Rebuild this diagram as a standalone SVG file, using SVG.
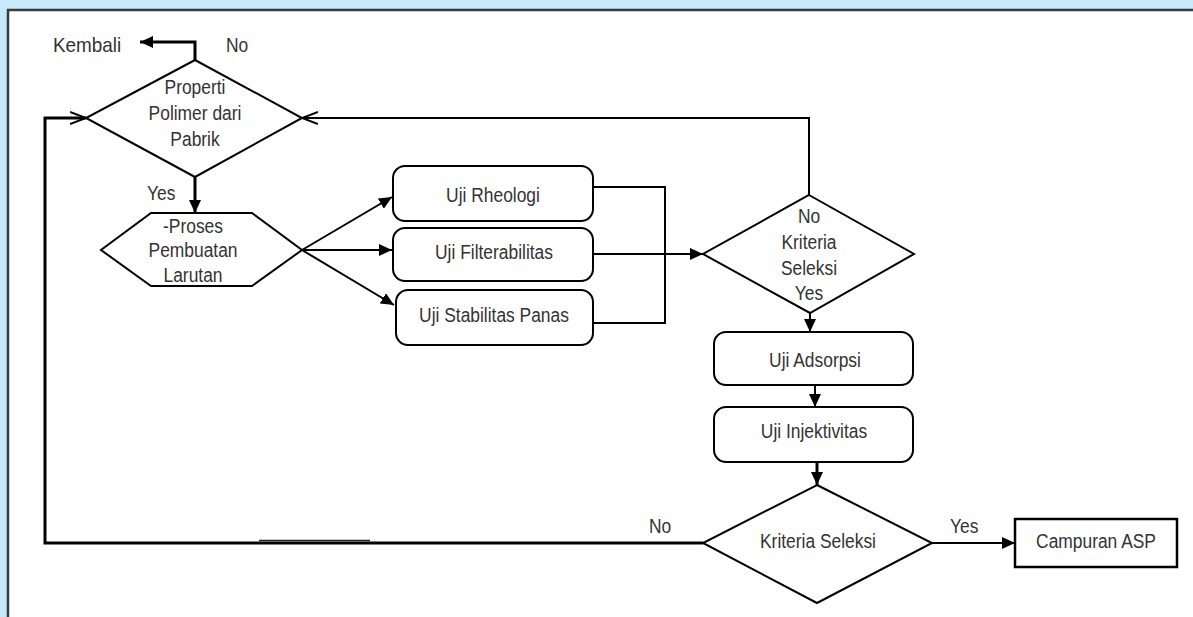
<svg xmlns="http://www.w3.org/2000/svg" width="1193" height="617" viewBox="0 0 1193 617">
<style>
.t{font-family:"Liberation Sans",Arial,sans-serif;font-size:20px;fill:#333;text-anchor:middle}
.l{text-anchor:start}
.s{fill:#fff;stroke:#000;stroke-width:2}
.c{fill:none;stroke:#000;stroke-width:2}
.ck{fill:none;stroke:#000;stroke-width:3}
</style>
<defs>
<marker id="fa" markerUnits="userSpaceOnUse" markerWidth="14" markerHeight="12" refX="13" refY="6" orient="auto">
<path d="M0,0 L13,6 L0,12 z" fill="#000"/>
</marker>
<marker id="oa" markerUnits="userSpaceOnUse" markerWidth="18" markerHeight="14" refX="16" refY="7" orient="auto">
<path d="M0,1 L16,7 L0,13" fill="none" stroke="#000" stroke-width="2"/>
</marker>
</defs>
<rect x="0" y="0" width="1193" height="617" fill="#C6EAF9"/>
<rect x="8" y="10" width="1185" height="607" fill="#fff"/>
<path d="M8,617 V10 H1193" fill="none" stroke="#3a3a3a" stroke-width="2.5"/>

<g id="connectors">
<path class="ck" d="M195,61 V42 H140" marker-end="url(#fa)"/>
<path class="ck" d="M195,177 V213" marker-end="url(#fa)"/>
<path class="c" d="M302,250 L392,197" marker-end="url(#fa)"/>
<path class="c" d="M302,250 H392" marker-end="url(#fa)"/>
<path class="c" d="M302,250 L394,305" marker-end="url(#fa)"/>
<path class="c" d="M593,187 H665 V323 H593"/>
<path class="c" d="M593,254 H703" marker-end="url(#fa)"/>
<path class="c" d="M809,195 V118 H302" marker-end="url(#oa)"/>
<path class="ck" d="M703,543 H45 V118 H86" marker-end="url(#oa)"/>
<path fill="none" stroke="#222" stroke-width="1.5" d="M259,540.5 H370"/>
<path class="c" d="M810,313 V332" marker-end="url(#fa)"/>
<path class="c" d="M815,385 V407" marker-end="url(#fa)"/>
<path class="ck" d="M817,462 V485" marker-end="url(#fa)"/>
<path class="c" d="M932,543 H1015" marker-end="url(#fa)"/>
<text class="t l" transform="translate(53 52) scale(.9 1)" style="font-size:21px">Kembali</text>
<text class="t l" transform="translate(226 52) scale(.87 1)">No</text>
<text class="t l" transform="translate(147 200) scale(.87 1)">Yes</text>
<text class="t l" transform="translate(649 533) scale(.87 1)">No</text>
<text class="t l" transform="translate(950 533) scale(.87 1)">Yes</text>
</g>

<g id="properti">
<polygon class="s" points="195,60 302,118 195,177 86,118"/>
<text class="t" transform="translate(195 94) scale(.87 1)">Properti</text>
<text class="t" transform="translate(195 120) scale(.87 1)">Polimer dari</text>
<text class="t" transform="translate(195 146) scale(.87 1)">Pabrik</text>
</g>

<g id="proses">
<polygon class="s" points="151,213 252,213 302,250 252,286 151,286 101,250"/>
<text class="t" transform="translate(193 233) scale(.87 1)">-Proses</text>
<text class="t" transform="translate(193 257) scale(.87 1)">Pembuatan</text>
<text class="t" transform="translate(193 282) scale(.87 1)">Larutan</text>
</g>

<g id="rheologi">
<rect class="s" x="393" y="166" width="200" height="55" rx="12"/>
<text class="t" transform="translate(493 202) scale(.87 1)">Uji Rheologi</text>
</g>

<g id="filterabilitas">
<rect class="s" x="393" y="228" width="200" height="53" rx="12"/>
<text class="t" transform="translate(494 259) scale(.87 1)">Uji Filterabilitas</text>
</g>

<g id="stabilitas">
<rect class="s" x="396" y="290" width="197" height="55" rx="12"/>
<text class="t" transform="translate(494 322) scale(.87 1)">Uji Stabilitas Panas</text>
</g>

<g id="kriteria1">
<polygon class="s" points="809,195 914,254 810,313 703,254"/>
<text class="t" transform="translate(809 223) scale(.87 1)">No</text>
<text class="t" transform="translate(809 249) scale(.87 1)">Kriteria</text>
<text class="t" transform="translate(809 275) scale(.87 1)">Seleksi</text>
<text class="t" transform="translate(809 300) scale(.87 1)">Yes</text>
</g>

<g id="adsorpsi">
<rect class="s" x="714" y="332" width="199" height="53" rx="12"/>
<text class="t" transform="translate(815 367) scale(.87 1)">Uji Adsorpsi</text>
</g>

<g id="injektivitas">
<rect class="s" x="714" y="407" width="199" height="55" rx="12"/>
<text class="t" transform="translate(814 438) scale(.87 1)">Uji Injektivitas</text>
</g>

<g id="kriteria2">
<polygon class="s" points="817,485 932,543 817,603 703,543"/>
<text class="t" transform="translate(818 548) scale(.87 1)">Kriteria Seleksi</text>
</g>

<g id="campuran">
<rect x="1015" y="519" width="162" height="48" fill="#fff" stroke="#000" stroke-width="2.5"/>
<text class="t" transform="translate(1096 548) scale(.87 1)">Campuran ASP</text>
</g>
</svg>
